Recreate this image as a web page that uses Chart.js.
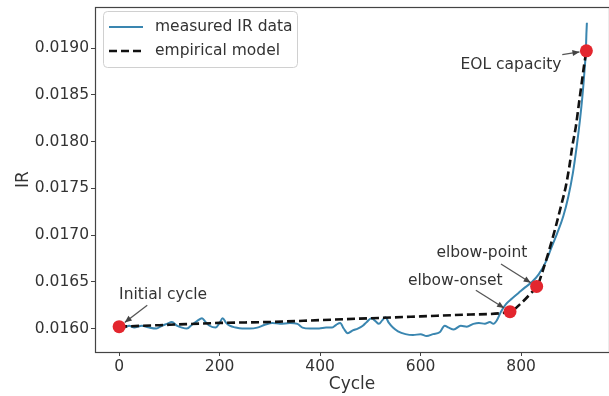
<!DOCTYPE html>
<html><head><meta charset="utf-8">
<script src="https://cdn.jsdelivr.net/npm/chart.js@4/dist/chart.umd.min.js"></script>
<style>html,body{margin:0;padding:0;background:#fff}canvas{display:block}</style>
</head><body>
<canvas id="c" width="609" height="396"></canvas>
<script>
// ---- data ----
const measuredCycles = [0,10,20,30,45,60,74,85,95,105,115,125,135,145,155,165,172,180,192,200,206,213,220,232,245,260,275,290,305,320,340,355,365,380,398,412,424,432,440,447,455,465,475,485,493,502,510,517,524,530,537,545,555,570,585,600,612,625,638,648,656,666,680,692,705,716,728,738,745,752,760,770,782,795,808,822,835,848,860,872,884,894,903,911,917,922,926,929,930,931];
const measuredIR = [0.01602,0.01601,0.01603,0.01601,0.01603,0.01601,0.01600,0.01603,0.01605,0.01607,0.01603,0.01601,0.01600,0.01604,0.01608,0.01611,0.01607,0.01603,0.01601,0.01606,0.01611,0.01606,0.01603,0.01601,0.01600,0.01600,0.01601,0.01604,0.01606,0.01605,0.01606,0.01605,0.01601,0.01600,0.01600,0.01601,0.01601,0.01604,0.01606,0.01600,0.01595,0.01598,0.01600,0.01603,0.01607,0.01611,0.01608,0.01605,0.01609,0.01612,0.01606,0.01601,0.01597,0.01594,0.01593,0.01594,0.01592,0.01594,0.01596,0.01603,0.01601,0.01599,0.01603,0.01602,0.01605,0.01606,0.01605,0.01607,0.01605,0.01609,0.01618,0.01626,0.01632,0.01638,0.01644,0.01650,0.01658,0.01670,0.01686,0.01702,0.01720,0.01741,0.01766,0.01796,0.01822,0.01848,0.01874,0.01898,0.01915,0.01927];
const modelCycles = [0,100,200,300,400,500,600,700,778,800,820,832,845,856,869,879,889,896,902,909,915,920,925,930];
const modelIR = [0.01602,0.01604,0.01606,0.01607,0.01609,0.01611,0.01613,0.01615,0.01618,0.01627,0.01638,0.01645,0.01665,0.01684,0.01709,0.01730,0.01752,0.01773,0.01795,0.01816,0.01840,0.01860,0.01880,0.01897];
const keyCycles = [0,778,831,930];
const keyIR = [0.01602,0.01618,0.01645,0.01897];
const keyLabels = ['Initial cycle','elbow-onset','elbow-point','EOL capacity'];
const seriesNames = ['measured IR data','empirical model'];
const xTicks = [0,200,400,600,800];
const yTicks = [0.0160,0.0165,0.0170,0.0175,0.0180,0.0185,0.0190];
const xTitle = 'Cycle';
const yTitle = 'IR';

// annotation text anchors and arrow tails (data coordinates), text alignment
const labelText = [[0,0.016364,'left'],[669,0.016507,'center'],[722,0.016804,'center'],[780,0.018821,'center']];
const arrowTail = [[56,0.01625],[710,0.01641],[760,0.01669],[882,0.01893]];

const FONT = 'DejaVu Sans';
const TXT = '#333';
const BLUE = '#3a86b0';

const toXY = (xs, ys) => xs.map((x, i) => ({x, y: ys[i]}));

const framePlugin = {
  id: 'frame',
  afterDatasetsDraw(chart) {
    const ctx = chart.ctx, xs = chart.scales.x, ys = chart.scales.y;
    ctx.save();
    ctx.font = '15.5px "' + FONT + '"';
    ctx.textBaseline = 'middle';
    keyLabels.forEach((t, i) => {
      const [lx, ly, al] = labelText[i];
      ctx.textAlign = al;
      ctx.fillStyle = TXT;
      ctx.fillText(t, xs.getPixelForValue(lx), ys.getPixelForValue(ly));
      const tx = xs.getPixelForValue(arrowTail[i][0]), ty = ys.getPixelForValue(arrowTail[i][1]);
      const px = xs.getPixelForValue(keyCycles[i]), py = ys.getPixelForValue(keyIR[i]);
      const ang = Math.atan2(py - ty, px - tx);
      const ex = px - Math.cos(ang) * 7, ey = py - Math.sin(ang) * 7;
      ctx.strokeStyle = '#555'; ctx.lineWidth = 1.3;
      ctx.beginPath(); ctx.moveTo(tx, ty); ctx.lineTo(ex, ey); ctx.stroke();
      ctx.fillStyle = '#444';
      ctx.beginPath();
      ctx.moveTo(ex, ey);
      ctx.lineTo(ex - Math.cos(ang) * 7 + Math.sin(ang) * 3, ey - Math.sin(ang) * 7 - Math.cos(ang) * 3);
      ctx.lineTo(ex - Math.cos(ang) * 7 - Math.sin(ang) * 3, ey - Math.sin(ang) * 7 + Math.cos(ang) * 3);
      ctx.closePath(); ctx.fill();
    });
    ctx.restore();
  },
  afterDraw(chart) {
    const ctx = chart.ctx, a = chart.chartArea;
    ctx.save();
    ctx.strokeStyle = '#444'; ctx.lineWidth = 1.2;
    ctx.strokeRect(a.left + 0.5, a.top + 0.5, a.right - a.left, a.bottom - a.top);
    // legend
    const lx = a.left + 8, ly = a.top + 4, lw = 194, lh = 56;
    ctx.fillStyle = 'rgba(255,255,255,0.85)';
    ctx.strokeStyle = '#d0d0d0'; ctx.lineWidth = 1;
    ctx.beginPath();
    if (ctx.roundRect) ctx.roundRect(lx + 0.5, ly + 0.5, lw, lh, 4); else ctx.rect(lx + 0.5, ly + 0.5, lw, lh);
    ctx.fill(); ctx.stroke();
    const rows = [ly + 16, ly + 40];
    ctx.lineWidth = 2.2; ctx.strokeStyle = BLUE; ctx.setLineDash([]);
    ctx.beginPath(); ctx.moveTo(lx + 6, rows[0]); ctx.lineTo(lx + 40, rows[0]); ctx.stroke();
    ctx.lineWidth = 2.6; ctx.strokeStyle = '#111'; ctx.setLineDash([8, 4]);
    ctx.beginPath(); ctx.moveTo(lx + 6, rows[1]); ctx.lineTo(lx + 40, rows[1]); ctx.stroke();
    ctx.setLineDash([]);
    ctx.font = '15.5px "' + FONT + '"'; ctx.fillStyle = TXT;
    ctx.textAlign = 'left'; ctx.textBaseline = 'middle';
    ctx.fillText(seriesNames[0], lx + 52, rows[0]);
    ctx.fillText(seriesNames[1], lx + 52, rows[1]);
    ctx.restore();
  }
};

new Chart(document.getElementById('c'), {
  type: 'line',
  data: {
    datasets: [
      {label: seriesNames[0], data: toXY(measuredCycles, measuredIR), borderColor: BLUE, borderWidth: 2, pointRadius: 0, cubicInterpolationMode: 'monotone', order: 3},
      {label: seriesNames[1], data: toXY(modelCycles, modelIR), borderColor: '#111', borderWidth: 2.6, borderDash: [8, 4], pointRadius: 0, cubicInterpolationMode: 'monotone', order: 2},
      {label: 'key points', data: toXY(keyCycles, keyIR), showLine: false, pointRadius: 6.5, pointBackgroundColor: '#e3262e', pointBorderWidth: 0, order: 1}
    ]
  },
  options: {
    responsive: false,
    animation: false,
    events: [],
    layout: {autoPadding: false, padding: {left: 0, top: 7, right: 0, bottom: 0}},
    plugins: {legend: {display: false}, tooltip: {enabled: false}},
    scales: {
      x: {
        type: 'linear', min: -48, max: 975,
        afterBuildTicks: s => { s.ticks = xTicks.map(v => ({value: v})); },
        afterFit: s => { s.height = 44; s.paddingLeft = 0; s.paddingRight = 0; },
        ticks: {color: TXT, font: {family: FONT, size: 15.5}, padding: 2, maxRotation: 0, callback: v => String(v)},
        grid: {drawOnChartArea: false, drawTicks: true, tickLength: 4, color: '#444'},
        border: {display: false},
        title: {display: true, text: xTitle, color: TXT, font: {family: FONT, size: 17}, padding: {top: 0, bottom: 1}}
      },
      y: {
        type: 'linear', min: 0.015749, max: 0.019439,
        afterBuildTicks: s => { s.ticks = yTicks.map(v => ({value: v})); },
        afterFit: s => { s.width = 95; s.paddingTop = 0; s.paddingBottom = 0; },
        ticks: {color: TXT, font: {family: FONT, size: 15.5}, padding: 2, callback: v => v.toFixed(4)},
        grid: {drawOnChartArea: false, drawTicks: true, tickLength: 4, color: '#444'},
        border: {display: false},
        title: {display: true, text: yTitle, color: TXT, font: {family: FONT, size: 17}, padding: {top: 13, bottom: 0}}
      }
    }
  },
  plugins: [framePlugin]
});
</script>
</body></html>
